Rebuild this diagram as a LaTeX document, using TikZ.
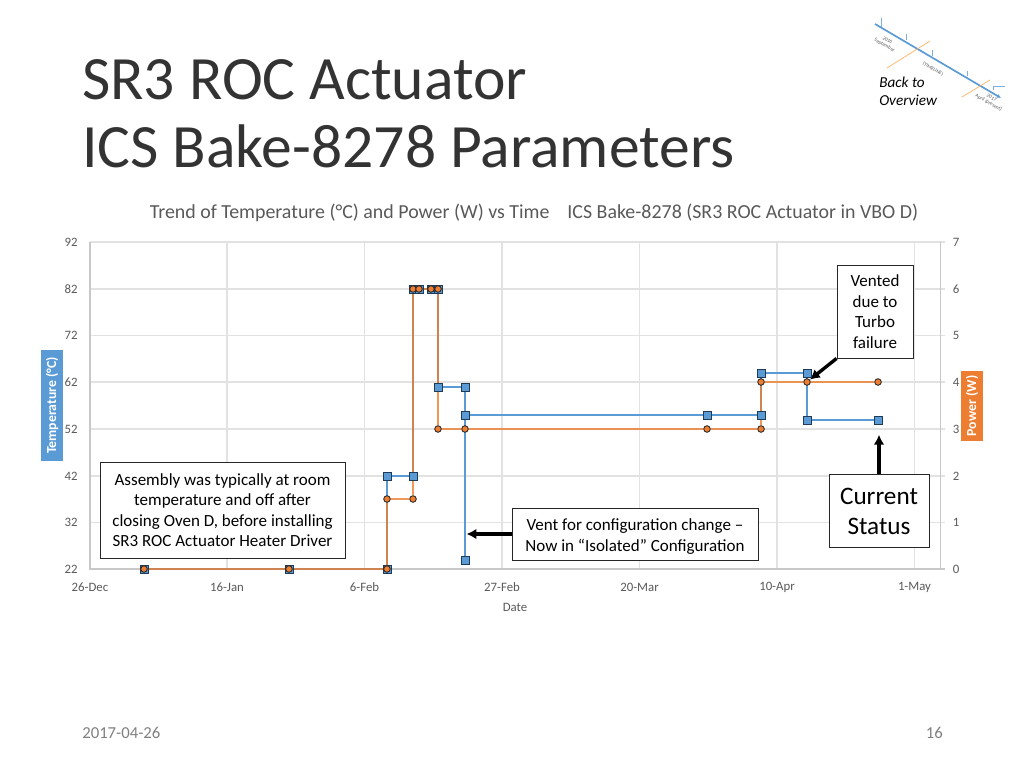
\documentclass[tikz,border=0pt]{standalone}
\usepackage{fontspec}
\usetikzlibrary{arrows.meta}
\setmainfont{Carlito}
\definecolor{bluefill}{HTML}{5B9BD5}
\definecolor{orangefill}{HTML}{ED7D31}
\definecolor{gridgray}{HTML}{E2E2E2}
\definecolor{axisgray}{HTML}{C8C8C8}
\definecolor{labelgray}{HTML}{595959}
\definecolor{markedge}{HTML}{1F3B57}
\pgfdeclarelayer{marks}
\pgfsetlayers{main,marks}

\begin{document}
\begin{tikzpicture}[x = .025cm, y = -.025cm,
    blue square/.style = {draw = markedge, shape = rectangle, fill = bluefill, inner sep = 0pt, minimum size = .2cm, line width = .6pt},
    orange dot/.style = {draw = black!85, shape = circle, fill = orangefill, inner sep = 0pt, minimum size = .165cm, line width = .6pt},
    blue line/.style = {draw = bluefill, line width = 2.05pt},
    orange line/.style = {draw = orangefill, line width = 1.95pt, opacity = .8},
    grid line/.style = {draw = gridgray, line width = .9pt},
    axis line/.style = {draw = axisgray, line width = .9pt},
    tick text/.style = {text = labelgray, font = \fontsize{9.1}{10}\selectfont},
    note box/.style = {draw = black!85, fill = white, line width = .6pt, align = center, inner sep = 0pt, text = black},
    call arrow/.style = {draw = black, line width = 2.4pt, -{Latex[length = 7pt, width = 7.5pt]}},
    badge/.style = {rotate = 90, text = white, font = \bfseries\fontsize{9.8}{10}\selectfont, inner sep = 0pt, minimum height = .535cm},
    time tick/.style = {draw = bluefill!80, line width = .35pt},
    time text/.style = {rotate = -30, text = labelgray, font = \fontsize{3.6}{4}\selectfont, align = center, inner sep = 0pt}]
    \useasboundingbox (0, 0) rectangle (1024, 768);

    % title and footer
    \node[anchor = base west, inner sep = 0pt, text = black!80, font = \fontsize{43.8}{50}\selectfont] (title1) at (82, 100) {SR3 ROC Actuator};
    \node[anchor = base west, inner sep = 0pt, text = black!80, font = \fontsize{43.8}{50}\selectfont] (title2) at (82, 168) {ICS Bake-8278 Parameters};
    \node[anchor = west, inner sep = 0pt, text = gray, font = \fontsize{11.9}{12}\selectfont] (datefoot) at (82, 733) {2017-04-26};
    \node[anchor = east, inner sep = 0pt, text = gray, font = \fontsize{11.9}{12}\selectfont] (pagefoot) at (943, 733) {16};
    \node[inner sep = 0pt, text = labelgray, font = \fontsize{14.15}{15}\selectfont] (charttitle) at (534, 212.5) {Trend of Temperature (°C) and Power (W) vs Time\hspace{.9em}ICS Bake-8278 (SR3 ROC Actuator in VBO D)};

    % overview thumbnail
    \coordinate (tlA) at (875, 24);
    \coordinate (tlB) at (1001, 98);
    \draw[draw = bluefill, line width = 1.2pt, -{Latex[length = 3pt, width = 3pt]}] (tlA) -- (tlB);
    \draw[draw = orange!60!white, line width = .5pt] (887, 68) -- (930, 41);
    \draw[draw = orange!60!white, line width = .5pt] (962, 97) -- (990, 80);
    \draw[time tick] (881, 27) -- (881, 18);
    \draw[time tick] (906, 40) -- (906, 34);
    \draw[time tick] (932, 56) -- (932, 50);
    \draw[time tick] (967, 76) -- (967, 71);
    \draw[time tick] (993, 90) -- (993, 86) -- (1005, 86);
    \node[time text] (tl2016) at (886, 43) {2016\\September};
    \node[time text] (tlmid) at (933, 69) {(TIMELINE)};
    \node[time text] (tl2017) at (990, 100.5) {2017\\April (present)};
    \node[anchor = north west, inner sep = 0pt, align = left, font = \itshape\fontsize{10.8}{13.2}\selectfont] (backlink) at (879, 76.5) {Back to\\Overview};

    % grid
    \foreach \yy in {242, 289, 335.5, 382, 429, 476, 522.5} {
    	\draw[grid line] (90, \yy) -- (945, \yy);
    }
    \foreach \xx in {227, 364.5, 502, 639.5, 777, 914.5} {
    	\draw[grid line] (\xx, 242) -- (\xx, 569);
    }
    \draw[axis line] (90, 242) -- (90, 569) -- (945, 569);
    \draw[axis line] (940.5, 242) -- (940.5, 569);

    % axis numbers
    \node[tick text] (t92) at (71, 242) {92};
    \node[tick text] (t82) at (71, 289) {82};
    \node[tick text] (t72) at (71, 335.5) {72};
    \node[tick text] (t62) at (71, 382) {62};
    \node[tick text] (t52) at (71, 429) {52};
    \node[tick text] (t42) at (71, 476) {42};
    \node[tick text] (t32) at (71, 522.5) {32};
    \node[tick text] (t22) at (71, 569) {22};
    \node[tick text] (p7) at (956, 242) {7};
    \node[tick text] (p6) at (956, 289) {6};
    \node[tick text] (p5) at (956, 335.5) {5};
    \node[tick text] (p4) at (956, 382) {4};
    \node[tick text] (p3) at (956, 429) {3};
    \node[tick text] (p2) at (956, 476) {2};
    \node[tick text] (p1) at (956, 522.5) {1};
    \node[tick text] (p0) at (956, 569) {0};
    \node[tick text] (d1) at (90, 587) {26-Dec};
    \node[tick text] (d2) at (227, 587) {16-Jan};
    \node[tick text] (d3) at (364.5, 587) {6-Feb};
    \node[tick text] (d4) at (502, 587) {27-Feb};
    \node[tick text] (d5) at (639.5, 587) {20-Mar};
    \node[tick text] (d6) at (777, 587) {10-Apr};
    \node[tick text] (d7) at (914.5, 587) {1-May};
    \node[tick text] (datelabel) at (515, 607) {Date};
    \node[badge, fill = bluefill, minimum width = 2.77cm] (templabel) at (52.2, 405.5) {Temperature (°C)};
    \node[badge, fill = orangefill, minimum width = 1.75cm] (powerlabel) at (972, 406) {Power (W)};

    \begin{pgfonlayer}{marks}
    % temperature points
    \node[blue square] (B1) at (144, 569) {};
    \node[blue square] (B2) at (289, 569) {};
    \node[blue square] (B3) at (387, 569) {};
    \node[blue square] (B4) at (387, 476) {};
    \node[blue square] (B5) at (413, 476) {};
    \node[blue square] (B6) at (413, 289) {};
    \node[blue square] (B7) at (419, 289) {};
    \node[blue square] (B8) at (431, 289) {};
    \node[blue square] (B9) at (438, 289) {};
    \node[blue square] (B10) at (438, 387) {};
    \node[blue square] (B11) at (465, 387) {};
    \node[blue square] (B12) at (465, 560) {};
    \node[blue square] (B13) at (465, 415) {};
    \node[blue square] (B14) at (707, 415) {};
    \node[blue square] (B15) at (761, 415) {};
    \node[blue square] (B16) at (761, 373) {};
    \node[blue square] (B17) at (807, 373) {};
    \node[blue square] (B18) at (807, 420) {};
    \node[blue square] (B19) at (878, 420) {};
    % power points
    \node[orange dot] (O1) at (144, 569) {};
    \node[orange dot] (O2) at (289, 569) {};
    \node[orange dot] (O3) at (387, 569) {};
    \node[orange dot] (O4) at (387, 499) {};
    \node[orange dot] (O5) at (413, 499) {};
    \node[orange dot] (O6) at (413, 289) {};
    \node[orange dot] (O7) at (419, 289) {};
    \node[orange dot] (O8) at (431, 289) {};
    \node[orange dot] (O9) at (438, 289) {};
    \node[orange dot] (O10) at (438, 429) {};
    \node[orange dot] (O11) at (465, 429) {};
    \node[orange dot] (O12) at (707, 429) {};
    \node[orange dot] (O13) at (761, 429) {};
    \node[orange dot] (O14) at (761, 382) {};
    \node[orange dot] (O15) at (807, 382) {};
    \node[orange dot] (O16) at (878, 382) {};
    \end{pgfonlayer}
    \draw[blue line] (B1) -- (B2) -- (B3) -- (B4) -- (B5) -- (B6) -- (B7) -- (B8) -- (B9) -- (B10) -- (B11) -- (B12);
    \draw[blue line] (B12) -- (B13) -- (B14) -- (B15) -- (B16) -- (B17) -- (B18) -- (B19);
    \draw[orange line] (O1) -- (O2) -- (O3) -- (O4) -- (O5) -- (O6) -- (O7) -- (O8) -- (O9) -- (O10) -- (O11) -- (O12) -- (O13) -- (O14) -- (O15) -- (O16);

    % notes
    \node[note box, minimum width = 1.9cm, minimum height = 2.325cm, font = \fontsize{12.1}{14.6}\selectfont] (ventednote) at (875, 311.5) {Vented\\due to\\Turbo\\failure};
    \node[note box, minimum width = 2.5cm, minimum height = 1.82cm, font = \fontsize{17.9}{21.5}\selectfont] (statusnote) at (879, 511.3) {Current\\Status};
    \node[note box, minimum width = 6.15cm, minimum height = 1.3cm, font = \fontsize{12.1}{14.9}\selectfont] (confignote) at (635, 534) {\rule{0pt}{11.5pt}Vent for configuration change --\\Now in “Isolated” Configuration};
    \node[note box, minimum width = 6.12cm, minimum height = 2.4cm, font = \fontsize{12.1}{14.6}\selectfont] (roomnote) at (222.5, 510) {Assembly was typically at room\\temperature and off after\\closing Oven D, before installing\\SR3 ROC Actuator Heater Driver};
    \coordinate (statusend) at (879, 434.7);
    \coordinate (ventpoint) at (466.5, 534);
    \draw[call arrow] (ventednote.south west) -- (O15);
    \draw[call arrow] (statusnote.north) -- (statusend);
    \draw[call arrow] (confignote.west) -- (ventpoint);
\end{tikzpicture}
\end{document}
